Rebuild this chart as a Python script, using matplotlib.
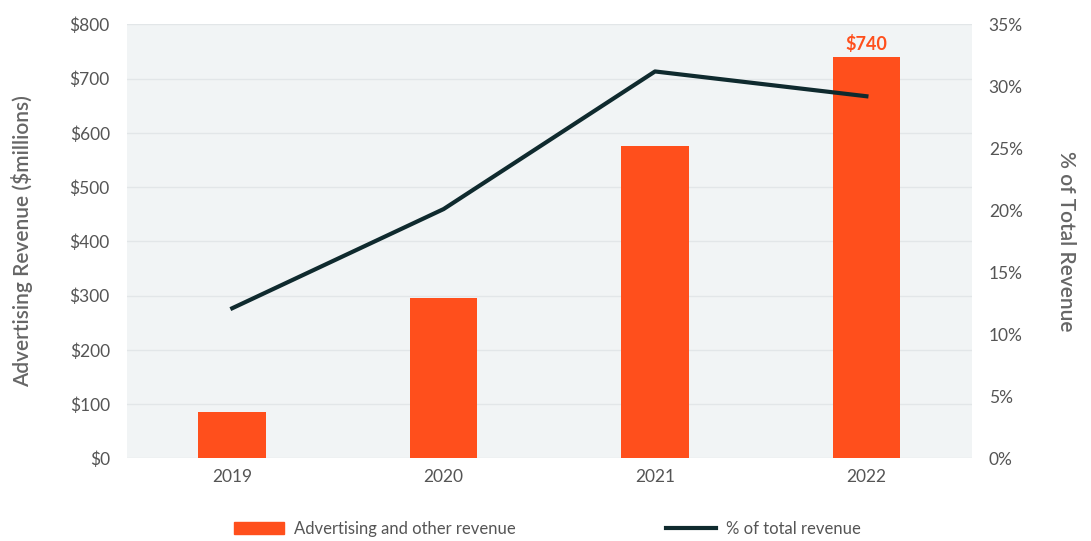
import matplotlib.pyplot as plt
import numpy as np
from matplotlib.patches import Patch
from matplotlib.lines import Line2D

plt.rcParams['font.family'] = ['Lato', 'DejaVu Sans']

years = ["2019", "2020", "2021", "2022"]
ad_revenue = [85, 295, 575, 740]          # $ millions
pct_of_total = [12.1, 20.1, 31.2, 29.2]   # % of total revenue

BAR = "#ff4f1c"
LINE = "#0f2a2e"
TEXT = "#555555"
BG = "#f1f4f5"
GRID = "#e2e6e8"

fig, ax = plt.subplots(figsize=(10.91, 5.41), dpi=100)
fig.subplots_adjust(left=0.116, right=0.891, top=0.955, bottom=0.153)

x = np.arange(len(years))
ax.set_facecolor(BG)
ax.bar(x, ad_revenue, width=0.32, color=BAR, zorder=2)
ax.set_xlim(-0.5, len(years) - 0.5)
ax.set_ylim(0, 800)
ax.set_yticks(np.arange(0, 801, 100))
ax.set_yticklabels([f"${v}" for v in range(0, 801, 100)])
ax.set_xticks(x)
ax.set_xticklabels(years)
ax.grid(axis="y", color=GRID, linewidth=1, zorder=0)
ax.set_axisbelow(True)
for s in ax.spines.values():
    s.set_visible(False)
ax.tick_params(length=0, labelsize=12.5, colors=TEXT, pad=8)
ax.tick_params(axis="y", pad=12)
ax.set_ylabel("Advertising Revenue ($millions)", fontsize=15, color="#666666",
              fontweight="semibold", labelpad=26)

ax.text(x[-1], ad_revenue[-1] + 8, f"${ad_revenue[-1]}", ha="center", va="bottom",
        color=BAR, fontsize=13, fontweight="bold")

ax2 = ax.twinx()
ax2.plot(x, pct_of_total, color=LINE, linewidth=3, zorder=3)
ax2.set_ylim(0, 35)
ax2.set_yticks(np.arange(0, 36, 5))
ax2.set_yticklabels([f"{v}%" for v in range(0, 36, 5)])
for s in ax2.spines.values():
    s.set_visible(False)
ax2.tick_params(length=0, labelsize=12.5, colors=TEXT, pad=12)
ax2.set_ylabel("% of Total Revenue", fontsize=15, color="#666666", fontweight="semibold",
               rotation=270, labelpad=38)

handles = [Patch(color=BAR), Line2D([0], [0], color=LINE, linewidth=3)]
fig.legend(handles, ["Advertising and other revenue", "% of total revenue"],
           loc="lower center", bbox_to_anchor=(0.502, -0.02), ncol=2, frameon=False,
           fontsize=12, labelcolor=TEXT, handlelength=3.0, handleheight=0.8,
           columnspacing=9, handletextpad=0.6)

fig.savefig("out.png", dpi=100)
